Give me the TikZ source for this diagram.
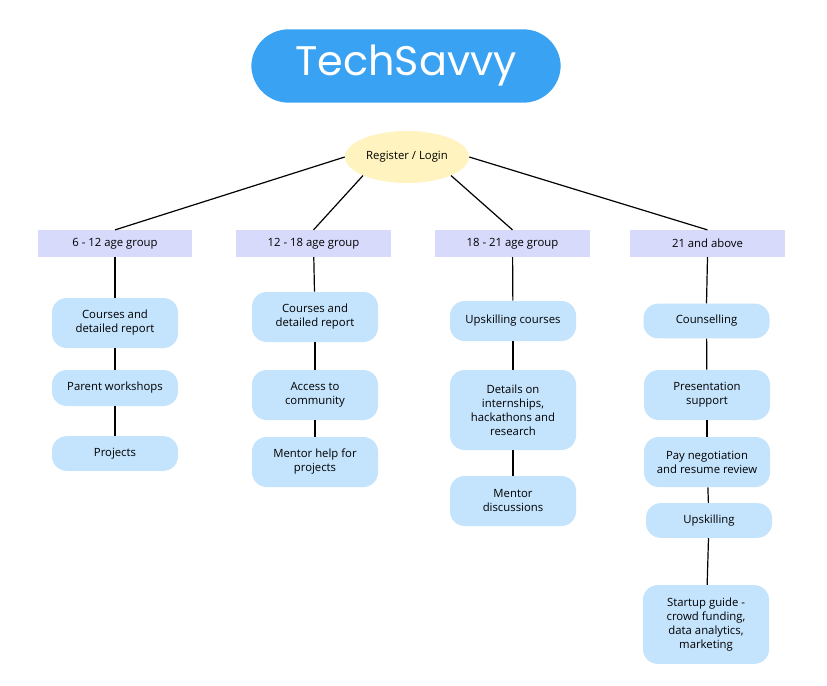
\documentclass[tikz,border=0pt]{standalone}
\usepackage{fontspec}
\setmainfont{Open Sans}
\newfontfamily\titlefont{Poppins}
\usetikzlibrary{shapes.geometric}
\definecolor{titleblue}{HTML}{3AA2F2}
\definecolor{ell}{HTML}{FFF4BF}
\definecolor{grp}{HTML}{D7DAFB}
\definecolor{item}{HTML}{C4E3FC}
\begin{document}
\begin{tikzpicture}[x=0.75pt,y=-0.75pt,
  grp/.style={fill=grp,draw=none,minimum width=116pt,minimum height=20pt,font=\fontsize{8.5}{10}\selectfont,inner sep=0pt},
  item/.style={fill=item,draw=none,rounded corners=11pt,minimum width=94.5pt,align=center,font=\fontsize{8.5}{10.5}\selectfont,inner sep=2pt},
  ln/.style={line width=0.9pt,black}]
\fill[white] (0,0) rectangle (827,685);
\useasboundingbox (0,0) rectangle (827,685);
\node[fill=titleblue,rounded corners=28pt,minimum width=232pt,minimum height=55pt,text=white,font=\titlefont\fontsize{31}{36}\selectfont] (title) at (406,66) {TechSavvy};
\node[ellipse,fill=ell,minimum width=93pt,minimum height=39pt,inner sep=0pt,font=\fontsize{8.5}{10}\selectfont] (reg) at (407,157) {Register / Login};
\node[grp] (g1) at (115,243.5) {6 - 12 age group};
\node[grp] (g2) at (313.5,243.5) {12 - 18 age group};
\node[grp] (g3) at (512.5,243.5) {18 - 21 age group};
\node[grp] (g4) at (707.5,243.5) {21 and above};
% column 1
\node[item,minimum height=37.5pt] (a1) at (115,323) {Courses and\\detailed report};
\node[item,minimum height=27pt] (a2) at (115,388) {Parent workshops};
\node[item,minimum height=26pt] (a3) at (115,453.5) {Projects};
% column 2
\node[item,minimum height=37.5pt] (b1) at (315,317) {Courses and\\detailed report};
\node[item,minimum height=37.5pt] (b2) at (315,395) {Access to\\community};
\node[item,minimum height=37.5pt] (b3) at (315,462) {Mentor help for\\projects};
% column 3
\node[item,minimum height=30pt] (c1) at (513,321) {Upskilling courses};
\node[item,minimum height=60pt] (c2) at (513,410) {Details on\\internships,\\hackathons and\\research};
\node[item,minimum height=37.5pt] (c3) at (513,501) {Mentor\\discussions};
% column 4
\node[item,minimum height=26pt] (d1) at (706.5,321) {Counselling};
\node[item,minimum height=37.5pt] (d2) at (707,395) {Presentation\\support};
\node[item,minimum height=37.5pt] (d3) at (707,462) {Pay negotiation\\and resume review};
\node[item,minimum height=26pt] (d4) at (709,520.5) {Upskilling};
\node[item,minimum height=59pt] (d5) at (706,624.5) {Startup guide -\\crowd funding,\\data analytics,\\marketing};
% connectors
\draw[ln] (reg.west) -- (g1.north);
\draw[ln] (reg.south west) -- (g2.north);
\draw[ln] (reg.south east) -- (g3.north);
\draw[ln] (reg.east) -- (g4.north);
\draw[ln] (g1) -- (a1); \draw[ln] (a1) -- (a2); \draw[ln] (a2) -- (a3);
\draw[ln] (g2) -- (b1); \draw[ln] (b1) -- (b2); \draw[ln] (b2) -- (b3);
\draw[ln] (g3) -- (c1); \draw[ln] (c1) -- (c2); \draw[ln] (c2) -- (c3);
\draw[ln] (g4.south) -- (d1.north); \draw[ln] (d1) -- (d2); \draw[ln] (d2) -- (d3); \draw[ln] (d3) -- (d4); \draw[ln] (d4) -- (d5);
\end{tikzpicture}
\end{document}
